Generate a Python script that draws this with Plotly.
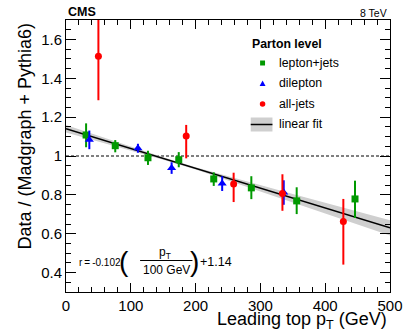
import plotly.graph_objects as go

# lepton+jets (green squares)
lj_x = [31, 76, 126.5, 174, 228, 286, 356, 446]
lj_y = [1.108, 1.053, 0.991, 0.981, 0.882, 0.836, 0.769, 0.779]
lj_up = [0.060, 0.029, 0.036, 0.039, 0.034, 0.060, 0.070, 0.094]
lj_dn = [0.063, 0.034, 0.037, 0.039, 0.036, 0.058, 0.068, 0.098]

# dilepton (blue triangles)
dl_x = [36, 111, 163, 241, 336]
dl_y = [1.083, 1.040, 0.938, 0.858, 0.812]
dl_err = [0.048, 0.023, 0.030, 0.038, 0.063]

# all-jets (red circles)
aj_x = [50, 185.5, 258.7, 334, 428]
aj_y = [1.514, 1.103, 0.856, 0.807, 0.663]
aj_up = [0.230, 0.057, 0.058, 0.099, 0.116]
aj_dn = [0.227, 0.115, 0.093, 0.089, 0.222]

# linear fit and its uncertainty band
fit_x = [0, 50, 100, 150, 200, 250, 300, 350, 400, 450, 500]
fit_y = [1.140, 1.089, 1.038, 0.987, 0.936, 0.885, 0.834, 0.783, 0.732, 0.681, 0.630]
fit_hw = [0.019, 0.014, 0.0095, 0.006, 0.006, 0.010, 0.016, 0.022, 0.028, 0.034, 0.039]

GREEN = "#009900"
BLUE = "#0000ff"
RED = "#ff0000"
FONT = "Liberation Sans, Arial, sans-serif"

W, H = 415, 336
L, R, T, B = 66, 21, 20, 44
PW, PH = W - L - R, H - T - B


def px(x):
    return (x - L) / PW


def py(y):
    return (H - B - y) / PH


fig = go.Figure()

band_lo = [c - h for c, h in zip(fit_y, fit_hw)]
band_hi = [c + h for c, h in zip(fit_y, fit_hw)]
fig.add_trace(go.Scatter(x=fit_x + fit_x[::-1], y=band_hi + band_lo[::-1],
                         fill="toself", fillcolor="#cfcfcf", line=dict(width=0),
                         mode="lines", hoverinfo="skip", showlegend=False))
fig.add_trace(go.Scatter(x=fit_x, y=fit_y, mode="lines",
                         line=dict(color="black", width=1.5), showlegend=False))

fig.add_trace(go.Scatter(x=lj_x, y=lj_y, mode="markers", name="lepton+jets",
                         marker=dict(symbol="square", size=7, color=GREEN),
                         error_y=dict(type="data", symmetric=False, array=lj_up, arrayminus=lj_dn,
                                      color=GREEN, thickness=2, width=0)))
fig.add_trace(go.Scatter(x=dl_x, y=dl_y, mode="markers", name="dilepton",
                         marker=dict(symbol="triangle-up", size=8, color=BLUE),
                         error_y=dict(type="data", array=dl_err,
                                      color=BLUE, thickness=2, width=0)))
fig.add_trace(go.Scatter(x=aj_x, y=aj_y, mode="markers", name="all-jets",
                         marker=dict(symbol="circle", size=7, color=RED),
                         error_y=dict(type="data", symmetric=False, array=aj_up, arrayminus=aj_dn,
                                      color=RED, thickness=2, width=0)))

# dotted reference line at 1
fig.add_shape(type="line", xref="paper", x0=0, x1=1, yref="y", y0=1, y1=1,
              line=dict(color="black", width=1, dash="3px,2px"), layer="below")

# hand-made legend
fig.add_annotation(xref="paper", yref="paper", x=px(252), y=py(44), xanchor="left", yanchor="middle",
                   text="<b>Parton level</b>", showarrow=False, font=dict(size=12.3, color="black", family=FONT))
leg_rows = [("lepton+jets", 63), ("dilepton", 83), ("all-jets", 104), ("linear fit", 124.5)]
for label, yy in leg_rows:
    fig.add_annotation(xref="paper", yref="paper", x=px(280), y=py(yy), xanchor="left", yanchor="middle",
                       text=label, showarrow=False, font=dict(size=12.3, color="black", family=FONT))
fig.add_shape(type="rect", xref="paper", yref="paper", x0=px(262.5), x1=px(267.5), y0=py(65.5), y1=py(60.5),
              fillcolor=GREEN, line=dict(width=0))
fig.add_shape(type="path", xref="paper", yref="paper",
              path=f"M {px(262)},{py(86)} L {px(268)},{py(86)} L {px(265)},{py(80.5)} Z",
              fillcolor=BLUE, line=dict(width=0))
fig.add_shape(type="circle", xref="paper", yref="paper", x0=px(262.2), x1=px(267.8), y0=py(106.8), y1=py(101.2),
              fillcolor=RED, line=dict(width=0))
fig.add_shape(type="rect", xref="paper", yref="paper", x0=px(253), x1=px(275), y0=py(131.5), y1=py(117.5),
              fillcolor="#cfcfcf", line=dict(width=0))
fig.add_shape(type="line", xref="paper", yref="paper", x0=px(253), x1=px(275), y0=py(124.5), y1=py(124.5),
              line=dict(color="black", width=1.5))

# fit formula
fig.add_annotation(xref="paper", yref="paper", x=px(77), y=py(262.5), xanchor="left", yanchor="middle",
                   text="r\u2009=\u2009-0.102·", showarrow=False,
                   font=dict(size=10, color="black", family=FONT))
fig.add_annotation(xref="paper", yref="paper", x=px(124.5), y=py(261), xanchor="center", yanchor="middle",
                   text="(", showarrow=False, font=dict(size=28, color="black", family=FONT))
fig.add_annotation(xref="paper", yref="paper", x=px(196.5), y=py(261), xanchor="center", yanchor="middle",
                   text=")", showarrow=False, font=dict(size=28, color="black", family=FONT))
fig.add_annotation(xref="paper", yref="paper", x=px(166), y=py(253), xanchor="center", yanchor="middle",
                   text="p<sub>T</sub>", showarrow=False, font=dict(size=12, color="black", family=FONT))
fig.add_shape(type="line", xref="paper", yref="paper", x0=px(141), x1=px(194), y0=py(260.5), y1=py(260.5),
              line=dict(color="black", width=1))
fig.add_annotation(xref="paper", yref="paper", x=px(168), y=py(269.5), xanchor="center", yanchor="middle",
                   text="100 GeV", showarrow=False, font=dict(size=12, color="black", family=FONT))
fig.add_annotation(xref="paper", yref="paper", x=px(200), y=py(262), xanchor="left", yanchor="middle",
                   text="+1.14", showarrow=False, font=dict(size=12.5, color="black", family=FONT))

# titles and labels
fig.add_annotation(xref="paper", yref="paper", x=px(66.5), y=py(12.5), xanchor="left", yanchor="middle",
                   text="<b>CMS</b>", showarrow=False, font=dict(size=12.5, color="black", family=FONT))
fig.add_annotation(xref="paper", yref="paper", x=px(393), y=py(13), xanchor="right", yanchor="middle",
                   text="8 TeV", showarrow=False, font=dict(size=10.5, color="black", family=FONT))
fig.add_annotation(xref="paper", yref="paper", x=px(393), y=py(320), xanchor="right", yanchor="middle",
                   text="Leading top p<sub>T</sub> (GeV)", showarrow=False,
                   font=dict(size=18, color="black", family=FONT))
fig.add_annotation(xref="paper", yref="paper", x=px(24), y=py(136), xanchor="center", yanchor="middle",
                   text="Data / (Madgraph + Pythia6)", textangle=-90, showarrow=False,
                   font=dict(size=18, color="black", family=FONT))

axis_style = dict(showgrid=False, zeroline=False, showline=True, linecolor="black", linewidth=1,
                  mirror="ticks", ticks="inside", tickcolor="black", tickwidth=1,
                  tickfont=dict(size=15, color="black", family=FONT))
fig.update_xaxes(range=[0, 500], dtick=100, tick0=0, ticklen=9,
                 minor=dict(dtick=20, ticks="inside", ticklen=5, tickcolor="black"), **axis_style)
fig.update_yaxes(range=[0.3, 1.7], dtick=0.2, tick0=0.4, ticklen=10,
                 minor=dict(dtick=0.05, ticks="inside", ticklen=5, tickcolor="black"), **axis_style)

fig.update_layout(width=W, height=H, margin=dict(l=L, r=R, t=T, b=B),
                  plot_bgcolor="white", paper_bgcolor="white", showlegend=False,
                  font=dict(family=FONT, color="black"))

fig.write_html("out.html", config={"displayModeBar": False},
               post_script="document.body.style.margin='0';")
